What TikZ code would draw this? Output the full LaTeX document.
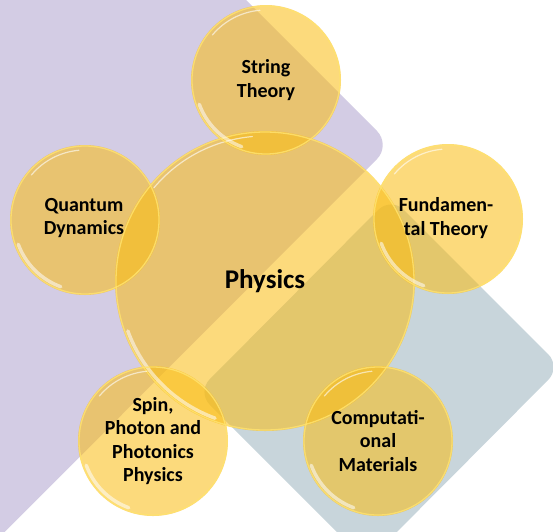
\documentclass[tikz,border=0pt]{standalone}
\usepackage{fontspec}
\setmainfont{Carlito}
\definecolor{lav}{RGB}{211,204,228}
\definecolor{slate}{RGB}{200,213,219}
\definecolor{bub}{RGB}{250,188,18}
\definecolor{rim}{RGB}{255,226,110}
\tikzset{
  bubble/.style={circle, fill=bub, fill opacity=0.55, minimum size=#1, inner sep=0pt},
  lbl/.style={font=\bfseries\fontsize{20}{23.5}\selectfont, align=center, text=black},
  biglbl/.style={font=\bfseries\fontsize{27}{30}\selectfont, align=center, text=black},
}
\newcommand\glossy[2]{%
  \draw[rim, line width=1.3pt, opacity=.85] (#1.center) circle[radius=#2-1];
  \draw[white, line width=1.2pt, opacity=.6, line cap=round] (#1.center) ++(-140:#2-5) arc[start angle=-140,end angle=-95,radius=#2-5];
  \draw[white, line width=3.5pt, opacity=.55, line cap=round] (#1.center) ++(110:#2-4) arc[start angle=110,end angle=160,radius=#2-4];
}
\begin{document}
\begin{tikzpicture}[x=1pt,y=-1pt]
\clip (0,0) rectangle (553,531);
\fill[white] (0,0) rectangle (553,531);
% background shapes
\fill[lav, rounded corners=20pt] (146,-100) -- (391,145) -- (-163,700) -- (-300,700) -- (-300,-100) -- cycle;
\fill[slate, rounded corners=18pt] (391,197) -- (561,367) -- (367,562) -- (197,392) -- cycle;
% bubbles
\node[bubble=300pt] (physics) at (265,281) {};
\node[bubble=150pt] (string) at (266,80) {};
\node[bubble=150pt] (quantum) at (85,220) {};
\node[bubble=150pt] (fund) at (448,219) {};
\node[bubble=150pt] (spin) at (153,441) {};
\node[bubble=150pt] (comp) at (378,441) {};
\glossy{physics}{150}
\glossy{string}{75}
\glossy{quantum}{75}
\glossy{fund}{75}
\glossy{spin}{75}
\glossy{comp}{75}
% labels
\node[biglbl] (physicslbl) at (physics.center) {Physics};
\node[lbl] (stringlbl) at (266,80) {String\\Theory};
\node[lbl] (quantumlbl) at (84,218) {Quantum\\Dynamics};
\node[lbl] (fundlbl) at (446,218) {Fundamen-\\tal Theory};
\node[lbl] (spinlbl) at (153,441) {Spin,\\Photon and\\Photonics\\Physics};
\node[lbl] (complbl) at (378,441) {Computati-\\onal\\Materials};
\end{tikzpicture}
\end{document}
